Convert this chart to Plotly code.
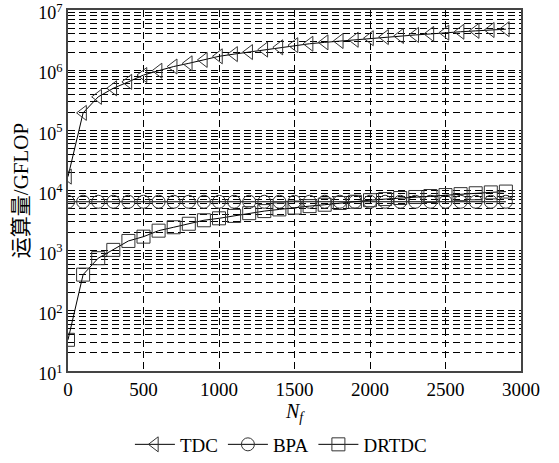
import plotly.graph_objects as go

n_f = [0, 100, 200, 300, 400, 500, 600, 700, 800, 900, 1000, 1100, 1200, 1300, 1400,
       1500, 1600, 1700, 1800, 1900, 2000, 2100, 2200, 2300, 2400, 2500, 2600, 2700, 2800, 2900]
tdc = [1.7e4, 1.95e5, 3.6e5, 5.0e5, 6.4e5, 8.3e5, 9.8e5, 1.15e6, 1.3e6, 1.48e6,
       1.7e6, 1.85e6, 2.0e6, 2.2e6, 2.4e6, 2.6e6, 2.75e6, 2.9e6, 3.05e6, 3.2e6,
       3.4e6, 3.55e6, 3.7e6, 3.85e6, 4.0e6, 4.2e6, 4.35e6, 4.5e6, 4.65e6, 4.8e6]
bpa = [6500, 6500, 6500, 6500, 6500, 6500, 6500, 6500, 6500, 6500,
       6500, 6500, 6500, 6500, 6500, 6500, 6500, 6500, 6500, 6500,
       6500, 6500, 6500, 6500, 6500, 6500, 6500, 6500, 6500, 6500]
drtdc = [33, 400, 750, 1030, 1450, 1710, 2150, 2450, 2800, 3200,
         3450, 3780, 4200, 4550, 4850, 5200, 5500, 5800, 6200, 6500,
         6900, 7200, 7500, 7800, 8100, 8400, 8700, 9000, 9300, 9600]

x_ticks = [0, 500, 1000, 1500, 2000, 2500, 3000]
y_tickvals = [10, 100, 1000, 10000, 100000, 1000000, 10000000]
y_ticktext = ["10<sup>1</sup>", "10<sup>2</sup>", "10<sup>3</sup>", "10<sup>4</sup>",
              "10<sup>5</sup>", "10<sup>6</sup>", "10<sup>7</sup>"]

FONT = "Liberation Serif, Noto Sans CJK SC, serif"

fig = go.Figure()
specs = [("TDC", tdc, "triangle-left-open"), ("BPA", bpa, "circle-open"), ("DRTDC", drtdc, "square-open")]
for name, ys, sym in specs:
    fig.add_trace(go.Scatter(
        x=n_f, y=ys, name=name, mode="lines+markers",
        line=dict(color="black", width=1),
        marker=dict(symbol=sym, size=13, color="#333333", line=dict(width=1, color="#333333")),
    ))

grid_dash = "7px,4px"
fig.update_layout(
    width=559, height=463,
    margin=dict(l=68, r=38, t=10, b=92, autoexpand=False),
    paper_bgcolor="white", plot_bgcolor="white",
    font=dict(family=FONT, size=18, color="black"),
    showlegend=True,
    legend=dict(orientation="h", x=0.47, xanchor="center",
                yref="container", y=0.04, yanchor="middle",
                font=dict(size=19), itemwidth=40, tracegroupgap=0, bgcolor="rgba(0,0,0,0)"),
    xaxis=dict(
        range=[0, 3000], tickvals=x_ticks, ticktext=[str(v) for v in x_ticks],
        showgrid=True, gridcolor="black", griddash=grid_dash, gridwidth=1,
        showline=True, linecolor="#444444", linewidth=1.5, mirror=True,
        ticks="", zeroline=False, automargin=False,
        title=dict(text="<i>N<sub>f</sub></i>", font=dict(size=20), standoff=5),
        tickfont=dict(size=19),
    ),
    yaxis=dict(
        type="log", range=[0.9999, 7.0001], tickvals=y_tickvals, ticktext=y_ticktext,
        showgrid=True, gridcolor="black", griddash=grid_dash, gridwidth=1,
        minor=dict(showgrid=True, gridcolor="black", griddash=grid_dash, gridwidth=1, dtick="D1"),
        showline=True, linecolor="#444444", linewidth=1.5, mirror=True,
        ticks="", zeroline=False, automargin=False, ticklabeloverflow="allow",
        ticklabelshift=3,
        title=dict(text="运算量/GFLOP", font=dict(size=21), standoff=4),
        tickfont=dict(size=18),
    ),
)

fig.write_html("out.html", config={"displayModeBar": False},
               post_script="document.body.style.margin='0px';")
